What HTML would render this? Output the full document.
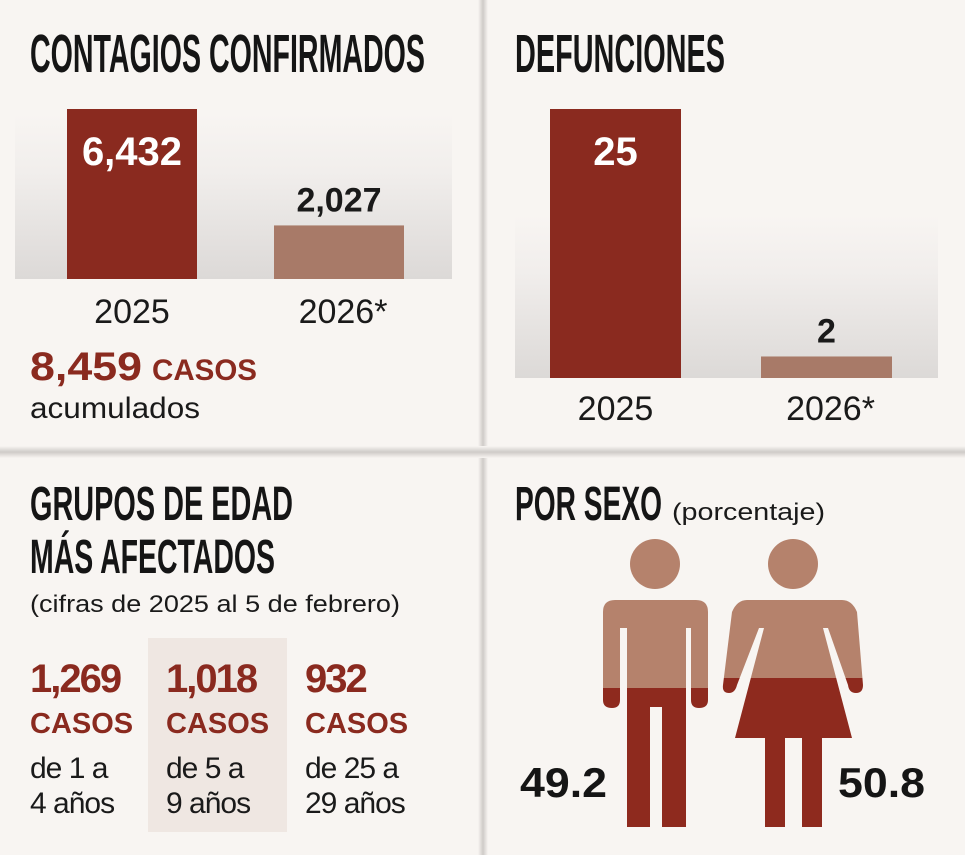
<!DOCTYPE html>
<html><head><meta charset="utf-8"><style>
html,body{margin:0;padding:0;background:#f8f5f2;}
svg{display:block;}
text{font-family:"Liberation Sans",sans-serif;}
.t{font-family:"Liberation Sans Narrow","Liberation Sans",sans-serif;font-weight:bold;fill:#151515;}
</style></head><body>
<svg id="chart" width="965" height="855" viewBox="0 0 965 855" xmlns="http://www.w3.org/2000/svg">
<defs>
<linearGradient id="band" x1="0" y1="0" x2="0" y2="1">
<stop offset="0" stop-color="#f8f5f2"/><stop offset="0.35" stop-color="#f1eeec"/><stop offset="1" stop-color="#dcd9d7"/></linearGradient>
<linearGradient id="vsh" x1="0" y1="0" x2="1" y2="0">
<stop offset="0" stop-color="#f8f5f2"/><stop offset="0.5" stop-color="#cfcbc8"/><stop offset="1" stop-color="#f8f5f2"/></linearGradient>
<linearGradient id="hsh" x1="0" y1="0" x2="0" y2="1">
<stop offset="0" stop-color="#f8f5f2"/><stop offset="0.5" stop-color="#cfcbc8"/><stop offset="1" stop-color="#f8f5f2"/></linearGradient>
<clipPath id="manTop"><rect x="590" y="520" width="130" height="168"/></clipPath>
<clipPath id="manBot"><rect x="590" y="688" width="130" height="150"/></clipPath>
<clipPath id="womTop"><rect x="715" y="520" width="160" height="158"/></clipPath>
<clipPath id="womBot"><rect x="715" y="678" width="160" height="160"/></clipPath>
</defs>
<rect x="0" y="0" width="965" height="855" fill="#f8f5f2"/>
<rect x="478" y="0" width="10" height="855" fill="url(#vsh)"/>
<rect x="0" y="446" width="965" height="12" fill="url(#hsh)"/>

<text class="t" x="30" y="72" font-size="54" textLength="395" lengthAdjust="spacingAndGlyphs">CONTAGIOS CONFIRMADOS</text>
<text class="t" x="515" y="72" font-size="54" textLength="210" lengthAdjust="spacingAndGlyphs">DEFUNCIONES</text>

<rect x="15" y="114" width="437" height="165" fill="url(#band)"/>
<rect x="515" y="215" width="423" height="163" fill="url(#band)"/>
<g id="cont"></g>
<g id="def"></g>

<text x="30" y="380" font-size="40" font-weight="bold" fill="#8a2a1f" textLength="112" lengthAdjust="spacingAndGlyphs">8,459</text>
<text x="152" y="380" font-size="30" font-weight="bold" fill="#8a2a1f" textLength="105" lengthAdjust="spacingAndGlyphs">CASOS</text>
<text x="30" y="418" font-size="30" fill="#1a1a1a" textLength="170" lengthAdjust="spacingAndGlyphs">acumulados</text>

<text class="t" x="30" y="520" font-size="48" textLength="263" lengthAdjust="spacingAndGlyphs">GRUPOS DE EDAD</text>
<text class="t" x="30" y="573" font-size="48" textLength="245" lengthAdjust="spacingAndGlyphs">MÁS AFECTADOS</text>
<text x="30" y="612" font-size="24" fill="#1a1a1a" textLength="370" lengthAdjust="spacingAndGlyphs">(cifras de 2025 al 5 de febrero)</text>
<rect x="148" y="638" width="139" height="194" fill="#efe7e2"/>
<g id="ages"></g>

<text class="t" x="515" y="520" font-size="48" textLength="147" lengthAdjust="spacingAndGlyphs">POR SEXO</text>
<text x="672" y="520" font-size="24" fill="#1a1a1a" textLength="153" lengthAdjust="spacingAndGlyphs">(porcentaje)</text>

<g>
<circle cx="655" cy="564" r="25" fill="#b5826c"/>
<g id="manShape">
<path d="M603 612 Q603 600 615 600 L696 600 Q708 600 708 612 L708 700 Q708 708 699 708 Q691 708 691 700 L691 628 L686 628 L686 827 L662 827 L662 707 L650 707 L650 827 L627 827 L627 628 L620 628 L620 700 Q620 708 612 708 Q603 708 603 700 Z"/>
</g>
</g>
<g>
<circle cx="793" cy="564" r="25" fill="#b5826c"/>
<path d="M747 600 L842 600 Q852 600 857 612 L863 685 Q863 693 856 693 Q849 693 848 685 L828 628 L823 628 L852 738 L822 738 L822 827 L802 827 L802 738 L785 738 L785 827 L765 827 L765 738 L735 738 L764 628 L759 628 L737 685 Q735 693 729 693 Q722 693 723 685 L732 612 Q737 600 747 600 Z" fill="none" id="womShape"/>
</g>
<g id="sex"></g>
</svg>
<script>
// ---- data ----
const contYears = ["2025", "2026*"];
const contValues = [6432, 2027];
const contLabels = ["6,432", "2,027"];
const defYears = ["2025", "2026*"];
const defValues = [25, 2];
const defLabels = ["25", "2"];
const ageCases = ["1,269", "1,018", "932"];
const ageRange1 = ["de 1 a", "de 5 a", "de 25 a"];
const ageRange2 = ["4 años", "9 años", "29 años"];
const sexLabels = ["49.2", "50.8"];
const sexValues = [49.2, 50.8];

const NS = "http://www.w3.org/2000/svg";
function mk(tag, attrs, parent, txt) {
  const e = document.createElementNS(NS, tag);
  for (const k in attrs) e.setAttribute(k, attrs[k]);
  if (txt !== undefined) e.textContent = txt;
  parent.appendChild(e);
  return e;
}
const barColors = ["#8a2a1f", "#a87a68"];

function barChart(g, years, values, labels, base, maxH, xs, w, yearY, prefix) {
  const max = Math.max(...values);
  const y = v => base - v / max * maxH;
  values.forEach((v, i) => {
    const top = y(v);
    const r = mk("rect", {x: xs[i], y: top, width: w, height: base - top, fill: barColors[i]}, g);
    
    
    const inside = (base - top) > 80;
    const t = mk("text", {x: xs[i] + w / 2, y: inside ? top + 56 : top - 14, "font-size": inside ? 40 : 34,
      "font-weight": "bold", fill: inside ? "#ffffff" : "#1a1a1a", "text-anchor": "middle"}, g, labels[i]);
    
    
    const yl = mk("text", {x: xs[i] + w / 2 + (i ? 4 : 0), y: yearY, "font-size": 34, fill: "#1a1a1a", "text-anchor": "middle"}, g, years[i]);
    
    
  });
}
barChart(document.getElementById("cont"), contYears, contValues, contLabels, 279, 170, [67, 274], 130, 323, "contagios");
barChart(document.getElementById("def"), defYears, defValues, defLabels, 378, 269, [550, 761], 131, 420, "defunciones");

const ag = document.getElementById("ages");
const ax = [30, 166, 305];
ageCases.forEach((c, i) => {
  const a = mk("text", {x: ax[i], y: 692, "font-size": 40, "font-weight": "bold", fill: "#8a2a1f", "letter-spacing": "-2"}, ag, c);
  
  
  const b = mk("text", {x: ax[i], y: 733, "font-size": 29, "font-weight": "bold", fill: "#8a2a1f"}, ag, "CASOS");
  
  
  const d = mk("text", {x: ax[i], y: 778, "font-size": 30, fill: "#1a1a1a", "letter-spacing": "-1"}, ag, ageRange1[i]);
  
  
  const e = mk("text", {x: ax[i], y: 813, "font-size": 30, fill: "#1a1a1a", "letter-spacing": "-1"}, ag, ageRange2[i]);
  
  
});

// figures: two-tone fill
const manD = document.querySelector("#manShape path").getAttribute("d");
const manG = document.getElementById("manShape");
mk("path", {d: manD, fill: "#b5826c", "clip-path": "url(#manTop)"}, manG);
mk("path", {d: manD, fill: "#8e2a1e", "clip-path": "url(#manBot)"}, manG);
document.querySelector("#manShape path").setAttribute("fill", "none");
const womD = document.getElementById("womShape").getAttribute("d");
const womG = document.getElementById("womShape").parentNode;
mk("path", {d: womD, fill: "#b5826c", "clip-path": "url(#womTop)"}, womG);
mk("path", {d: womD, fill: "#8e2a1e", "clip-path": "url(#womBot)"}, womG);

const sg = document.getElementById("sex");
const sx = [520, 838];
sexLabels.forEach((l, i) => {
  const t = mk("text", {x: sx[i], y: 797, "font-size": 42, "font-weight": "bold", fill: "#151515", textLength: 87, lengthAdjust: "spacingAndGlyphs"}, sg, l);
  
  
});
</script>
</body></html>
